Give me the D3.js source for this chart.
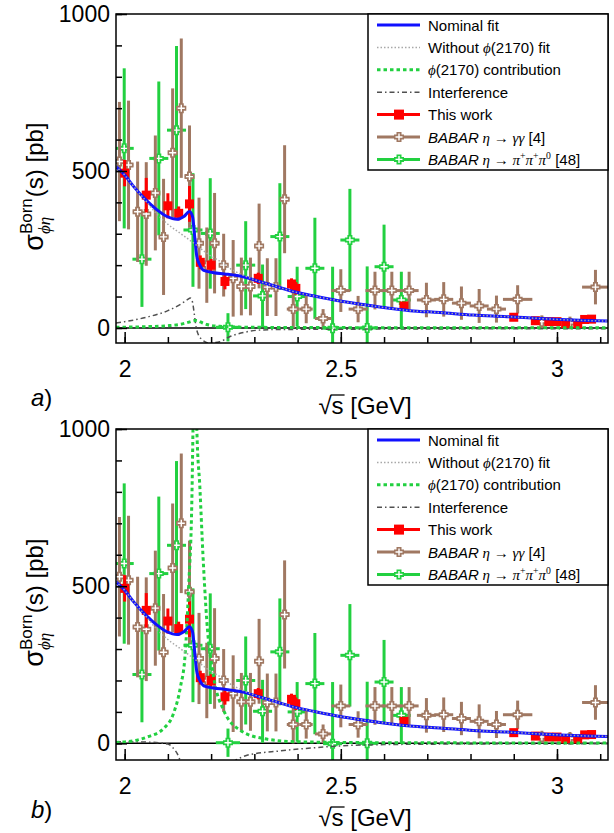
<!DOCTYPE html>
<html>
<head>
<meta charset="utf-8">
<script src="https://cdn.jsdelivr.net/npm/d3@7"></script>
<style>
  body { margin: 0; background: #fff; }
  text { font-family: "Liberation Sans", Arial, sans-serif; fill: #000; }
</style>
</head>
<body>
<div id="chart"></div>
<script>
// ---------- values ----------
const xMajorTicks = [2, 2.5, 3];
const yMajorTicks = [0, 500, 1000];

// This work: [sqrt(s) GeV, sigma pb, error]
const thisWork = [
  [2.000, 493, 42], [2.050, 423, 55], [2.100, 389, 40], [2.125, 365, 22],
  [2.150, 395, 57], [2.175, 209, 22], [2.200, 200, 20], [2.232, 148, 25],
  [2.309, 158, 18], [2.386, 140, 18], [2.396, 126, 20], [2.646, 70, 12],
  [2.900, 34, 10], [2.950, 23, 8], [2.981, 20, 8], [3.000, 20, 8],
  [3.020, 14, 8], [3.048, 14, 8], [3.064, 27, 8], [3.080, 28, 8]
];

// BABAR eta -> gamma gamma: [sqrt(s), sigma, error, half bin]
const babarGG = [
  [1.988, 530, 190, 0.011], [2.009, 519, 205, 0.011], [2.030, 370, 160, 0.011],
  [2.050, 363, 165, 0.011], [2.071, 430, 183, 0.011], [2.090, 290, 185, 0.011],
  [2.111, 558, 205, 0.011], [2.131, 700, 222, 0.011], [2.150, 482, 163, 0.011],
  [2.172, 270, 145, 0.011], [2.190, 200, 120, 0.011], [2.208, 270, 160, 0.011],
  [2.229, 200, 100, 0.011], [2.251, 158, 122, 0.011], [2.270, 132, 92, 0.011],
  [2.291, 132, 92, 0.011], [2.311, 261, 135, 0.011], [2.330, 130, 92, 0.011],
  [2.350, 130, 92, 0.011], [2.370, 410, 172, 0.011], [2.390, 60, 60, 0.015],
  [2.420, 60, 45, 0.015], [2.459, 30, 30, 0.019], [2.500, 119, 68, 0.022],
  [2.540, 60, 42, 0.022], [2.579, 119, 60, 0.022], [2.618, 119, 60, 0.022],
  [2.658, 119, 60, 0.022], [2.698, 89, 55, 0.022], [2.738, 91, 55, 0.022],
  [2.779, 79, 53, 0.022], [2.820, 70, 54, 0.022], [2.860, 60, 43, 0.022],
  [2.909, 91, 45, 0.034], [2.965, 20, 20, 0.012], [3.030, 16, 20, 0.012],
  [3.089, 130, 55, 0.031]
];

// BABAR eta -> pi pi pi0: [sqrt(s), sigma, error, half bin]
const babarPPP = [
  [1.999, 572, 255, 0.022], [2.040, 219, 152, 0.022], [2.079, 540, 245, 0.022],
  [2.120, 630, 268, 0.022], [2.158, 312, 181, 0.022], [2.198, 301, 176, 0.022],
  [2.239, 2, 45, 0.028], [2.280, 200, 140, 0.022], [2.319, 102, 100, 0.022],
  [2.359, 291, 170, 0.022], [2.399, 100, 95, 0.022], [2.440, 190, 161, 0.022],
  [2.481, -1, 196, 0.022], [2.521, 280, 163, 0.022], [2.561, 0, 196, 0.022],
  [2.600, 195, 134, 0.022], [2.640, 89, 90, 0.022]
];

// fit curves: [sqrt(s), sigma]
const nominalFit = [
  [1.980, 514], [2.000, 487], [2.021, 450], [2.049, 408], [2.075, 376],
  [2.098, 355], [2.121, 346], [2.137, 355], [2.150, 371], [2.157, 355],
  [2.162, 291], [2.167, 227], [2.174, 200], [2.183, 183], [2.206, 176],
  [2.231, 172], [2.274, 163], [2.312, 148], [2.351, 132], [2.390, 116],
  [2.444, 100], [2.505, 84], [2.583, 68], [2.660, 55], [2.729, 49],
  [2.806, 41], [2.884, 36], [2.961, 30], [3.038, 25], [3.118, 22]
];
const withoutFit = [
  [1.980, 514], [2.000, 487], [2.021, 450], [2.049, 405], [2.075, 362],
  [2.102, 328], [2.129, 301], [2.160, 270], [2.190, 238], [2.222, 211],
  [2.243, 190], [2.274, 168], [2.312, 148], [2.351, 132], [2.390, 116],
  [2.444, 100], [2.505, 84], [2.583, 68], [2.660, 55], [2.729, 49],
  [2.806, 41], [2.884, 36], [2.961, 30], [3.038, 25], [3.118, 22]
];
// solution a)
const contribA = [
  [1.980, 2], [2.050, 4], [2.100, 7], [2.130, 12], [2.150, 19], [2.160, 23],
  [2.166, 24], [2.175, 19], [2.190, 11], [2.220, 5], [2.300, 2], [2.500, 1], [3.118, 0.5]
];
const interfA = [
  [1.980, 16], [2.000, 20], [2.050, 34], [2.100, 55], [2.130, 76], [2.145, 90],
  [2.152, 95], [2.157, 82], [2.161, 45], [2.165, 5], [2.170, -20], [2.180, -38],
  [2.195, -48], [2.220, -44], [2.243, -28], [2.277, -14], [2.310, -7], [2.357, -5],
  [2.500, -4], [2.800, -3], [3.118, -3]
];
// solution b)
const contribB = [
  [1.980, 3], [2.020, 8], [2.052, 20], [2.090, 47], [2.113, 95], [2.129, 179],
  [2.140, 285], [2.148, 496], [2.156, 814], [2.158, 994], [2.163, 1400],
  [2.167, 1000], [2.174, 814], [2.181, 603], [2.190, 390], [2.206, 210],
  [2.229, 105], [2.268, 41], [2.322, 15], [2.398, 5], [2.600, 2], [3.118, 1]
];
const interfB = [
  [1.980, 5], [2.050, 4], [2.100, -2], [2.113, -16], [2.125, -43], [2.135, -90],
  [2.150, -300], [2.165, -600], [2.190, -250], [2.210, -120], [2.235, -70],
  [2.256, -54], [2.283, -38], [2.360, -24], [2.430, -15], [2.500, -8],
  [2.600, -4], [2.800, -2], [3.118, -1]
];

// ---------- styles ----------
const colBlue = "#1010ff", colGray = "#a8a8a8", colGreen = "#22d040",
      colInt = "#505050", colRed = "#ff0000", colBrown = "#a07862";
const mathFont = "'Liberation Serif', 'DejaVu Serif', serif";

const svg = d3.select("#chart").append("svg")
  .attr("width", 614).attr("height", 833);

const x = d3.scaleLinear().domain([1.98, 3.118]).range([116, 608]);

// write a label made of styled pieces into a <text>
function richText(text, parts, size) {
  let shift = 0;
  parts.forEach(([str, kind]) => {
    const sup = kind === "sup";
    const target = sup ? -size * 0.4 : 0;
    const ts = text.append("tspan").text(str).attr("dy", target - shift);
    shift = target;
    if (kind === "m" || sup) ts.attr("font-family", mathFont).attr("font-style", sup ? "normal" : "italic");
    if (kind === "i") ts.attr("font-style", "italic");
    if (sup) ts.attr("font-size", size * 0.65);
  });
}

const legendItems = [
  { type: "nominal", parts: [["Nominal fit", "n"]] },
  { type: "without", parts: [["Without ", "n"], ["ϕ", "m"], ["(2170) fit", "n"]] },
  { type: "contrib", parts: [["ϕ", "m"], ["(2170) contribution", "n"]] },
  { type: "interf", parts: [["Interference", "n"]] },
  { type: "red", parts: [["This work", "n"]] },
  { type: "brown", parts: [["BABAR", "i"], [" η → γγ", "m"], [" [4]", "n"]] },
  { type: "green", parts: [["BABAR", "i"], [" η → π", "m"], ["+", "sup"], ["π", "m"],
                            ["+", "sup"], ["π", "m"], ["0", "sup"], [" [48]", "n"]] }
];

function crossMarker(g, cx, cy, col) {
  g.append("path").attr("d", `M${cx - 5},${cy}H${cx + 5}M${cx},${cy - 5}V${cy + 5}`)
    .attr("stroke", col).attr("stroke-width", 5);
  g.append("path").attr("d", `M${cx - 3.5},${cy}H${cx + 3.5}M${cx},${cy - 3.5}V${cy + 3.5}`)
    .attr("stroke", "#fff").attr("stroke-width", 1.4);
}

function drawBabar(g, y, data, col) {
  const s = g.append("g");
  data.forEach(([e, v, err, de]) => {
    s.append("line").attr("x1", x(e)).attr("x2", x(e)).attr("y1", y(v - err)).attr("y2", y(v + err))
      .attr("stroke", col).attr("stroke-width", 3);
    s.append("line").attr("x1", x(e - de)).attr("x2", x(e + de)).attr("y1", y(v)).attr("y2", y(v))
      .attr("stroke", col).attr("stroke-width", 3);
    crossMarker(s, x(e), y(v), col);
  });
}

function drawPanel(p) {
  const y = d3.scaleLinear().domain(p.yDomain).range([p.bottom, p.top]);
  const g = svg.append("g");
  const clipId = "clip-" + p.tag;
  svg.append("clipPath").attr("id", clipId).append("rect")
    .attr("x", x.range()[0]).attr("y", p.top)
    .attr("width", x.range()[1] - x.range()[0]).attr("height", p.bottom - p.top);
  const plot = g.append("g").attr("clip-path", `url(#${clipId})`);

  plot.append("line").attr("x1", x.range()[0]).attr("x2", x.range()[1])
    .attr("y1", y(0)).attr("y2", y(0)).attr("stroke", "#000").attr("stroke-width", 1.5);

  drawBabar(plot, y, babarPPP, colGreen);
  drawBabar(plot, y, babarGG, colBrown);

  const red = plot.append("g");
  thisWork.forEach(([e, v, err]) => {
    red.append("line").attr("x1", x(e)).attr("x2", x(e)).attr("y1", y(v - err)).attr("y2", y(v + err))
      .attr("stroke", colRed).attr("stroke-width", 3);
    red.append("rect").attr("x", x(e) - 4.5).attr("y", y(v) - 4.5).attr("width", 9).attr("height", 9)
      .attr("fill", colRed);
  });

  const line = d3.line().x(d => x(d[0])).y(d => y(d[1])).curve(d3.curveMonotoneX);
  plot.append("path").attr("d", line(p.interf)).attr("fill", "none")
    .attr("stroke", colInt).attr("stroke-width", 1.5).attr("stroke-dasharray", "5,3,1.5,3");
  plot.append("path").attr("d", line(p.contrib)).attr("fill", "none")
    .attr("stroke", colGreen).attr("stroke-width", 3).attr("stroke-dasharray", "3.5,3");
  plot.append("path").attr("d", line(nominalFit)).attr("fill", "none")
    .attr("stroke", colBlue).attr("stroke-width", 3);
  plot.append("path").attr("d", line(withoutFit)).attr("fill", "none")
    .attr("stroke", colGray).attr("stroke-width", 1.5).attr("stroke-dasharray", "1.5,2");

  // frame
  g.append("rect").attr("x", x.range()[0]).attr("y", p.top)
    .attr("width", x.range()[1] - x.range()[0]).attr("height", p.bottom - p.top)
    .attr("fill", "none").attr("stroke", "#000").attr("stroke-width", 1.5);

  // axes: ticks inside the frame
  const ax = g.append("g").attr("transform", `translate(0,${p.bottom})`);
  ax.append("g").call(d3.axisBottom(x).tickValues(x.ticks(12)).tickSize(-6).tickFormat(""));
  ax.append("g").call(d3.axisBottom(x).tickValues(xMajorTicks).tickSize(-11).tickPadding(18)
    .tickFormat(d3.format("")));
  const ay = g.append("g").attr("transform", `translate(${x.range()[0]},0)`);
  ay.append("g").call(d3.axisLeft(y).tickValues(y.ticks(10)).tickSize(-6).tickFormat(""));
  ay.append("g").call(d3.axisLeft(y).tickValues(yMajorTicks).tickSize(-11).tickPadding(6)
    .tickFormat(d3.format("")));
  g.selectAll(".domain").remove();
  g.selectAll(".tick line").attr("stroke", "#000").attr("stroke-width", 1.5);
  g.selectAll(".tick text").attr("font-size", 23).attr("font-family", "'Liberation Sans', Arial, sans-serif");

  // legend
  const lg = g.append("g");
  const lx = 368, lw = x.range()[1] - lx;
  lg.append("rect").attr("x", lx).attr("y", p.top).attr("width", lw).attr("height", 156)
    .attr("fill", "#fff").attr("stroke", "#000").attr("stroke-width", 1.5);
  legendItems.forEach((it, i) => {
    const yy = p.top + 11 + i * 22.4;
    const l = lg.append("line").attr("x1", lx + 9).attr("x2", lx + 52).attr("y1", yy).attr("y2", yy);
    if (it.type === "nominal") l.attr("stroke", colBlue).attr("stroke-width", 3);
    if (it.type === "without") l.attr("stroke", colGray).attr("stroke-width", 1.5).attr("stroke-dasharray", "1.5,2");
    if (it.type === "contrib") l.attr("stroke", colGreen).attr("stroke-width", 3).attr("stroke-dasharray", "3.5,3");
    if (it.type === "interf") l.attr("stroke", colInt).attr("stroke-width", 1.5).attr("stroke-dasharray", "5,3,1.5,3");
    if (it.type === "red") {
      l.attr("stroke", colRed).attr("stroke-width", 3);
      lg.append("rect").attr("x", lx + 26).attr("y", yy - 5).attr("width", 10).attr("height", 10).attr("fill", colRed);
    }
    if (it.type === "brown" || it.type === "green") {
      const c = it.type === "brown" ? colBrown : colGreen;
      l.attr("stroke", c).attr("stroke-width", 3);
      crossMarker(lg, lx + 31, yy, c);
    }
    const t = lg.append("text").attr("x", lx + 60).attr("y", yy + 5.5).attr("font-size", 15);
    richText(t, it.parts, 15);
  });

  // y title: sigma^Born_{phi eta}(s) [pb]
  const yt = g.append("g");
  const tt = yt.append("text").attr("x", 0).attr("y", 0);
  tt.append("tspan").text("σ").attr("font-size", 27);
  const born = tt.append("tspan").text("Born").attr("font-size", 17).attr("dy", -11);
  const bw = born.node().getComputedTextLength();
  const sub = tt.append("tspan").text("ϕη").attr("font-size", 17).attr("font-family", mathFont)
    .attr("font-style", "italic").attr("dx", -bw).attr("dy", 18);
  const sw = sub.node().getComputedTextLength();
  tt.append("tspan").text("(s) [pb]").attr("font-size", 24).attr("dx", bw - sw + 1).attr("dy", -7);
  const tw = tt.node().getComputedTextLength();
  const cy = (p.top + p.bottom) / 2;
  yt.attr("transform", `translate(43,${cy + tw / 2}) rotate(-90)`);

  // x title: sqrt(s) [GeV]
  const xb = p.bottom + p.xTitleGap;
  const xt = g.append("text").attr("x", 365).attr("y", xb)
    .attr("text-anchor", "middle").attr("font-size", 24);
  xt.append("tspan").text("√");
  xt.append("tspan").text("s");
  xt.append("tspan").text(" [GeV]");
  const n = xt.node();
  const s0 = n.getStartPositionOfChar(1), s1 = n.getEndPositionOfChar(1);
  g.append("line").attr("x1", s0.x - 1).attr("x2", s1.x + 1)
    .attr("y1", xb - 19).attr("y2", xb - 19)
    .attr("stroke", "#000").attr("stroke-width", 1.3);

  // panel tag
  const tg = g.append("text").attr("x", 31).attr("y", p.bottom + p.tagGap).attr("font-size", 24)
    .attr("font-family", mathFont);
  tg.append("tspan").text(p.tag).attr("font-style", "italic");
  tg.append("tspan").text(")");
}

drawPanel({ tag: "a", top: 14, bottom: 343, yDomain: [-48, 1000], contrib: contribA, interf: interfA,
            xTitleGap: 71, tagGap: 63 });
drawPanel({ tag: "b", top: 429, bottom: 760, yDomain: [-53, 1000], contrib: contribB, interf: interfB,
            xTitleGap: 66, tagGap: 58 });
</script>
</body>
</html>
